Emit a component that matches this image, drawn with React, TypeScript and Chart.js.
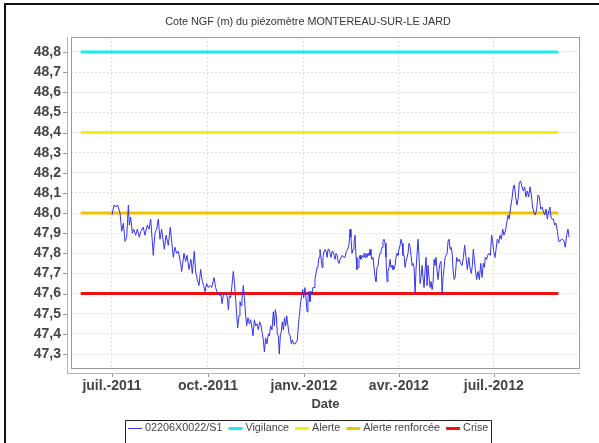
import React, { useEffect, useRef } from 'react';
import { Chart, registerables } from 'chart.js';

Chart.register(...registerables);

const TITLE = 'Cote NGF (m) du piézomètre MONTEREAU-SUR-LE JARD';
const X_TITLE = 'Date';
const SERIES_NAME = '02206X0022/S1';

// day offsets from 2011-07-01
const days = [
  0, 1.9, 3.8, 5.4, 7.7, 9.3, 10.9, 12.5, 14.1, 15.7, 16.6, 17.9, 19.5, 20.8, 22.7, 24.3, 26.2, 27.8, 30.0, 31.6,
  33.9, 35.5, 37.1, 39.6, 41.2, 42.8, 44.4, 46.0, 47.6, 50.2, 51.8, 54.0, 55.9, 57.2, 58.8, 60.4, 62.0, 63.6, 65.8, 66.8,
  69.0, 70.6, 71.9, 73.8, 75.7, 77.0, 78.9, 80.2, 81.8, 83.4, 85.0, 86.6, 87.9, 89.2, 90.8, 92.4, 94.0, 95.6, 97.8, 99.4,
  101.3, 103.5, 104.5, 105.5, 106.7, 108.3,
  109.3, 110.6, 111.6, 112.5, 113.8, 115.0, 116.3, 117.3, 118.6, 119.5, 120.5, 121.8, 122.7, 123.7, 124.6, 125.9, 126.9,
  128.2, 129.1, 130.4, 131.7, 132.9, 134.2, 135.2, 136.5, 137.7, 139.0, 140.3, 141.6, 142.9, 144.1, 145.1, 146.1, 147.3,
  148.6, 149.9, 150.9, 152.1, 153.4, 154.7, 155.7, 156.6, 157.6, 158.5, 159.5, 160.4, 161.4, 162.3, 163.3, 164.3, 165.5,
  166.5, 167.5, 168.7, 169.7, 170.9, 171.9, 172.9, 174.2, 175.5, 176.4, 177.7, 178.7, 179.6, 180.9, 181.9, 182.8, 183.8,
  185.0, 186.0, 187.0, 187.9, 188.9, 189.8, 190.8, 191.7, 192.7, 193.7, 194.6, 195.6, 196.6, 197.5, 198.5, 199.4, 200.4,
  201.4, 202.3, 203.3, 204.2, 205.2, 206.2, 207.1, 208.1, 209.1, 210.0, 211.0, 211.9, 212.9, 213.9, 214.8, 215.8, 216.7,
  217.7, 218.7,
  219.6, 220.8, 222.1, 223.4, 224.7, 225.9, 227.2, 228.2, 229.1, 230.1, 231.1, 232.0, 233.0, 234.0, 234.9, 235.9, 236.8,
  237.8, 238.7, 239.7, 240.7, 241.6, 242.6, 243.5, 244.5, 245.5, 246.4, 247.4, 248.3, 249.3, 250.3, 251.2, 252.2, 253.1,
  254.1, 255.1, 256.0, 257.0, 257.9, 258.9, 259.8, 260.8, 261.8, 262.7, 263.7, 264.6, 265.6, 266.6, 267.5, 268.5, 269.4,
  270.4, 271.4, 272.3, 273.3, 274.2, 275.2, 276.2, 277.1, 278.1, 279.0, 280.0, 281.0, 281.9, 282.9, 283.8, 284.8, 285.8,
  286.7, 287.7, 288.6, 289.6, 290.6, 291.5, 292.5, 293.4, 294.4, 295.4, 296.3, 297.3, 298.2, 299.2, 300.2, 301.1, 302.1,
  303.0, 304.0, 305.0, 305.9, 306.9, 307.8, 308.8, 309.7, 310.7, 311.7, 312.6, 313.6, 314.5, 315.5, 316.5, 317.4, 318.4,
  319.4, 320.3, 321.3, 322.2, 323.2, 324.2, 325.1, 326.1, 327.0, 328.0, 329.0,
  330.5, 331.7, 333.0, 334.3, 335.6, 336.9, 338.1, 339.4, 340.7, 342.0, 343.2, 344.5, 345.5, 346.4, 347.4, 348.3, 349.6,
  350.9, 352.2, 353.5, 354.8, 356.0, 357.0, 357.9, 359.2, 360.2, 361.4, 362.7, 364.0, 364.9, 365.9, 367.2, 368.2, 369.4,
  370.7, 372.0, 373.3, 374.6, 375.8, 377.1, 378.4, 379.7, 380.9, 382.2, 383.5, 384.8, 385.7, 387.0, 388.3, 389.6, 390.5,
  391.8, 393.1, 394.4, 395.6, 396.9, 398.2, 399.5, 400.8, 402.0, 403.3, 404.6, 405.9, 407.2, 408.4, 409.7, 411.0, 412.3,
  413.5, 414.8, 416.1, 417.4, 418.7, 419.9, 420.9, 421.9, 423.2, 424.4, 425.7, 427.0, 428.3, 429.5, 430.8, 432.1, 433.4,
  434.6, 435.9, 437.2, 438.2,
];

const levels = [
  47.99, 48.04, 48.03, 48.04, 48.00, 47.91, 47.95, 47.86, 47.88, 48.04, 47.94, 47.98, 47.90, 47.92, 47.89, 47.92, 47.88, 47.91, 47.93, 47.89,
  47.94, 47.92, 47.97, 47.79, 47.90, 47.92, 47.97, 47.87, 47.92, 47.82, 47.89, 47.84, 47.93, 47.86, 47.78, 47.83, 47.80, 47.81, 47.75, 47.71,
  47.80, 47.76, 47.79, 47.72, 47.77, 47.70, 47.81, 47.71, 47.67, 47.64, 47.72, 47.66, 47.64, 47.61, 47.65, 47.63, 47.64, 47.63, 47.68, 47.63,
  47.60, 47.59, 47.60, 47.55, 47.59, 47.60,
  47.60, 47.58, 47.52, 47.59, 47.58, 47.64, 47.71, 47.66, 47.57, 47.50, 47.43, 47.49, 47.56, 47.54, 47.57, 47.64, 47.58,
  47.49, 47.44, 47.48, 47.45, 47.47, 47.43, 47.39, 47.47, 47.44, 47.45, 47.42, 47.46, 47.44, 47.40, 47.37, 47.31, 47.38,
  47.35, 47.40, 47.39, 47.44, 47.42, 47.51, 47.44, 47.52, 47.49, 47.40, 47.39, 47.30, 47.39, 47.41, 47.46, 47.42, 47.48,
  47.44, 47.49, 47.44, 47.40, 47.39, 47.35, 47.37, 47.35, 47.35, 47.35, 47.37, 47.44, 47.49, 47.56, 47.59, 47.62, 47.58,
  47.63, 47.58, 47.51, 47.58, 47.61, 47.56, 47.61, 47.60, 47.63, 47.63, 47.67, 47.70, 47.73, 47.74, 47.78, 47.82, 47.78,
  47.73, 47.78, 47.81, 47.82, 47.81, 47.78, 47.82, 47.82, 47.80, 47.78, 47.81, 47.81, 47.79, 47.77, 47.80, 47.79, 47.76,
  47.75, 47.77,
  47.78, 47.79, 47.78, 47.78, 47.81, 47.82, 47.84, 47.92, 47.88, 47.80, 47.82, 47.85, 47.89, 47.78, 47.72, 47.73, 47.77,
  47.79, 47.77, 47.79, 47.78, 47.80, 47.78, 47.80, 47.78, 47.80, 47.79, 47.82, 47.79, 47.77, 47.78, 47.73, 47.68, 47.66,
  47.73, 47.74, 47.78, 47.80, 47.81, 47.83, 47.86, 47.87, 47.85, 47.78, 47.66, 47.71, 47.73, 47.77, 47.73, 47.74, 47.72,
  47.72, 47.74, 47.78, 47.80, 47.79, 47.82, 47.84, 47.87, 47.85, 47.79, 47.79, 47.73, 47.76, 47.78, 47.80, 47.85, 47.83,
  47.79, 47.74, 47.75, 47.73, 47.60, 47.72, 47.80, 47.87, 47.78, 47.65, 47.68, 47.74, 47.68, 47.63, 47.72, 47.78, 47.64,
  47.74, 47.68, 47.63, 47.66, 47.62, 47.65, 47.77, 47.74, 47.78, 47.71, 47.67, 47.72, 47.75, 47.76, 47.60, 47.68, 47.73,
  47.78, 47.79, 47.80, 47.86, 47.87, 47.82, 47.83, 47.80, 47.72, 47.67, 47.68,
  47.78, 47.76, 47.77, 47.75, 47.74, 47.78, 47.84, 47.78, 47.72, 47.78, 47.73, 47.70, 47.74, 47.82, 47.77, 47.72, 47.67,
  47.71, 47.67, 47.75, 47.68, 47.75, 47.73, 47.78, 47.77, 47.79, 47.80, 47.79, 47.89, 47.86, 47.81, 47.78, 47.82, 47.87,
  47.85, 47.89, 47.87, 47.92, 47.89, 47.91, 47.95, 47.99, 47.97, 48.03, 48.07, 48.13, 48.14, 48.08, 48.04, 48.08, 48.15,
  48.16, 48.13, 48.11, 48.13, 48.08, 48.11, 48.08, 48.13, 48.09, 48.03, 48.00, 47.99, 48.02, 48.09, 48.08, 48.02, 48.03,
  48.01, 47.99, 48.02, 47.97, 48.01, 48.03, 47.98, 47.97, 47.97, 47.94, 47.95, 47.91, 47.86, 47.86, 47.87, 47.87, 47.86,
  47.83, 47.89, 47.92, 47.88,
];

const thresholdNames = ['Vigilance', 'Alerte', 'Alerte renforcée', 'Crise'];
const thresholdValues = [48.8, 48.4, 48.0, 47.6];
const thresholdStartDay = -30; // 2011-06-01
const thresholdEndDay = 428; // 2012-09-01

const monthTickDays = [0, 92, 184, 275, 366];
const monthTickLabels = ['juil.-2011', 'oct.-2011', 'janv.-2012', 'avr.-2012', 'juil.-2012'];
const levelTicks = [47.3, 47.4, 47.5, 47.6, 47.7, 47.8, 47.9, 48.0, 48.1, 48.2, 48.3, 48.4, 48.5, 48.6, 48.7, 48.8];

const X_MIN = -39.3;
const X_MAX = 448.7;
const Y_MIN = 47.2255;
const Y_MAX = 48.8745;

const FONT = '"Liberation Sans", Arial, Helvetica, sans-serif';
const SERIES_COLOR = '#3434ee';
const THRESHOLD_COLORS = ['#14eeee', '#f4f000', '#f5c200', '#f21010'];
const TEXT_COLOR = '#444444';
const CENTER_X = 308;

const framePlugin = {
  id: 'framePlugin',
  beforeDraw(chart: any) {
    const ctx = chart.ctx;
    ctx.save();
    ctx.fillStyle = '#ffffff';
    ctx.fillRect(0, 0, chart.width, chart.height);
    ctx.fillStyle = '#111111';
    ctx.fillRect(4, 3, chart.width - 4, 2);
    ctx.fillRect(4, 3, 2, chart.height - 3);
    ctx.font = `10.8px ${FONT}`;
    ctx.fillStyle = '#333333';
    ctx.textAlign = 'center';
    ctx.textBaseline = 'middle';
    ctx.fillText(TITLE, CENTER_X, 22);
    ctx.restore();
  },
  afterDatasetsDraw(chart: any) {
    const ctx = chart.ctx;
    const a = chart.chartArea;
    const xs = chart.scales.x;
    const ys = chart.scales.y;
    ctx.save();
    ctx.lineWidth = 1;
    ctx.strokeStyle = '#9a9a9a';
    ctx.strokeRect(a.left + 0.5, a.top + 0.5, a.right - a.left - 1, a.bottom - a.top - 1);
    ctx.strokeStyle = '#b4b4b4';
    ctx.beginPath();
    ctx.moveTo(a.left - 3.5, a.top);
    ctx.lineTo(a.left - 3.5, a.bottom + 4.5);
    ctx.moveTo(a.left - 4, a.bottom + 4.5);
    ctx.lineTo(a.right, a.bottom + 4.5);
    ctx.stroke();
    ctx.strokeStyle = '#999999';
    ctx.beginPath();
    levelTicks.forEach((v) => {
      const y = Math.round(ys.getPixelForValue(v)) + 0.5;
      ctx.moveTo(a.left - 8, y);
      ctx.lineTo(a.left - 4, y);
    });
    monthTickDays.forEach((d) => {
      const x = Math.round(xs.getPixelForValue(d)) + 0.5;
      ctx.moveTo(x, a.bottom + 5);
      ctx.lineTo(x, a.bottom + 8);
    });
    ctx.stroke();
    ctx.restore();
  },
  afterDraw(chart: any) {
    const ctx = chart.ctx;
    const items = chart.data.datasets.map((ds: any) => ({
      label: ds.label,
      color: ds.borderColor,
      width: ds.borderWidth,
    }));
    ctx.save();
    ctx.font = `10.8px ${FONT}`;
    const sample = 14;
    const gapText = 3;
    const gapItem = 6;
    const pad = 3;
    let total = pad * 2;
    items.forEach((it: any, i: number) => {
      it.tw = ctx.measureText(it.label).width;
      total += sample + gapText + it.tw + (i > 0 ? gapItem : 0);
    });
    const left = Math.round(CENTER_X - total / 2);
    const right = left + Math.round(total);
    const top = 420;
    const midY = 428.5;
    ctx.strokeStyle = '#222222';
    ctx.lineWidth = 1;
    ctx.beginPath();
    ctx.moveTo(left + 0.5, chart.height);
    ctx.lineTo(left + 0.5, top + 0.5);
    ctx.lineTo(right + 0.5, top + 0.5);
    ctx.lineTo(right + 0.5, chart.height);
    ctx.stroke();
    let x = left + pad;
    ctx.textBaseline = 'middle';
    ctx.textAlign = 'left';
    items.forEach((it: any, i: number) => {
      if (i > 0) x += gapItem;
      ctx.strokeStyle = it.color;
      ctx.lineWidth = it.width;
      ctx.beginPath();
      ctx.moveTo(x, midY);
      ctx.lineTo(x + sample, midY);
      ctx.stroke();
      x += sample + gapText;
      ctx.fillStyle = TEXT_COLOR;
      ctx.fillText(it.label, x, midY);
      x += it.tw;
    });
    ctx.restore();
  },
};

export default function App() {
  const canvasRef = useRef<HTMLCanvasElement | null>(null);

  useEffect(() => {
    const canvas = canvasRef.current;
    if (!canvas) return;
    const seriesData = days.map((d, i) => ({ x: d, y: levels[i] }));
    const thresholdSets = thresholdNames.map((name, i) => ({
      label: name,
      data: [
        { x: thresholdStartDay, y: thresholdValues[i] },
        { x: thresholdEndDay, y: thresholdValues[i] },
      ],
      borderColor: THRESHOLD_COLORS[i],
      backgroundColor: THRESHOLD_COLORS[i],
      borderWidth: 3,
      pointRadius: 0,
      fill: false,
      order: 1,
    }));
    const chart = new Chart(canvas, {
      type: 'line',
      data: {
        datasets: [
          {
            label: SERIES_NAME,
            data: seriesData,
            borderColor: SERIES_COLOR,
            backgroundColor: SERIES_COLOR,
            borderWidth: 1,
            pointRadius: 0,
            tension: 0,
            fill: false,
            order: 0,
          },
          ...thresholdSets,
        ],
      },
      options: {
        responsive: false,
        animation: false,
        events: [],
        layout: { padding: { left: 10, right: 19, top: 37, bottom: 31 } },
        plugins: {
          legend: { display: false },
          tooltip: { enabled: false },
          title: { display: false },
        },
        scales: {
          x: {
            type: 'linear',
            min: X_MIN,
            max: X_MAX,
            afterBuildTicks: (s: any) => {
              s.ticks = monthTickDays.map((v) => ({ value: v }));
            },
            afterFit: (s: any) => {
              s.height = 43;
            },
            ticks: {
              autoSkip: false,
              maxRotation: 0,
              padding: 9,
              color: TEXT_COLOR,
              font: { family: FONT, size: 14, weight: 'bold' },
              callback: (v: any) => {
                const i = monthTickDays.indexOf(Number(v));
                return i >= 0 ? monthTickLabels[i] : '';
              },
            },
            grid: { color: '#e2e2e2', drawTicks: false, lineWidth: 1 },
            border: { display: false, dash: [2, 2] },
            title: {
              display: true,
              text: X_TITLE,
              color: TEXT_COLOR,
              font: { family: FONT, size: 13, weight: 'bold' },
              padding: 0,
            },
          },
          y: {
            type: 'linear',
            min: Y_MIN,
            max: Y_MAX,
            afterBuildTicks: (s: any) => {
              s.ticks = levelTicks.map((v) => ({ value: v }));
            },
            afterFit: (s: any) => {
              s.width = 61;
            },
            ticks: {
              autoSkip: false,
              padding: 10,
              color: TEXT_COLOR,
              font: { family: FONT, size: 14, weight: 'bold' },
              callback: (v: any) => Number(v).toFixed(1).replace('.', ','),
            },
            grid: { color: '#e2e2e2', drawTicks: false, lineWidth: 1 },
            border: { display: false, dash: [2, 2] },
          },
        },
      },
      plugins: [framePlugin],
    } as any);
    return () => chart.destroy();
  }, []);

  return (
    <div style={{ position: 'absolute', left: 0, top: 0, width: 599, height: 443 }}>
      <canvas ref={canvasRef} width={599} height={443} style={{ display: 'block', width: 599, height: 443 }} />
    </div>
  );
}
